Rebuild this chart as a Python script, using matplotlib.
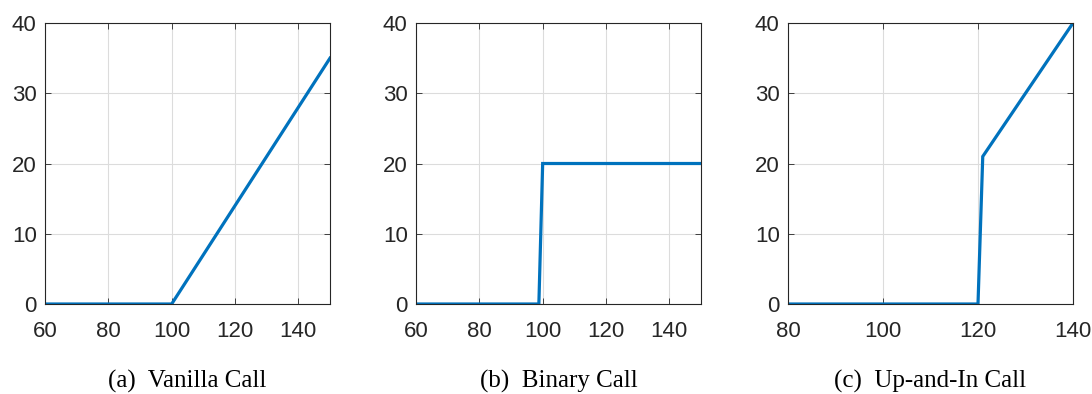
import matplotlib.pyplot as plt

# payoff profiles
vanilla_x = [60, 100, 150]
vanilla_y = [0, 0, 35]

binary_x = [60, 98.8, 100, 150]
binary_y = [0, 0, 20, 20]

upin_x = [80, 120, 121, 140]
upin_y = [0, 0, 21, 40]

panels = [
    (vanilla_x, vanilla_y, (60, 150), [60, 80, 100, 120, 140], "(a)  Vanilla Call"),
    (binary_x, binary_y, (60, 150), [60, 80, 100, 120, 140], "(b)  Binary Call"),
    (upin_x, upin_y, (80, 140), [80, 100, 120, 140], "(c)  Up-and-In Call"),
]

W, H = 1092, 394
lefts = [45, 416, 788]
ax_w, ax_top, ax_bot = 285, 23, 304

fig = plt.figure(figsize=(W / 100, H / 100), dpi=100)
dark = "#262626"

for left, (x, y, xlim, xticks, caption) in zip(lefts, panels):
    ax = fig.add_axes([left / W, 1 - ax_bot / H, ax_w / W, (ax_bot - ax_top) / H])
    ax.plot(x, y, color="#0072BD", linewidth=2.3, solid_joinstyle="miter")
    ax.set_xlim(*xlim)
    ax.set_ylim(0, 40)
    ax.set_xticks(xticks)
    ax.set_yticks([0, 10, 20, 30, 40])
    ax.grid(True, color="#dcdcdc", linewidth=0.8)
    ax.set_axisbelow(True)
    ax.tick_params(direction="in", top=True, right=True, length=4, width=0.6,
                   colors=dark, labelsize=16)
    ax.tick_params(axis="x", pad=12)
    ax.tick_params(axis="y", pad=6)
    for lab in ax.get_xticklabels() + ax.get_yticklabels():
        lab.set_fontfamily("Liberation Sans")
    for s in ax.spines.values():
        s.set_color(dark)
        s.set_linewidth(0.8)
    fig.text((left + ax_w / 2) / W, 1 - 381 / H, caption, ha="center", va="center",
             fontsize=18, family="Liberation Serif", color="black")

fig.savefig("out.png", dpi=100)
